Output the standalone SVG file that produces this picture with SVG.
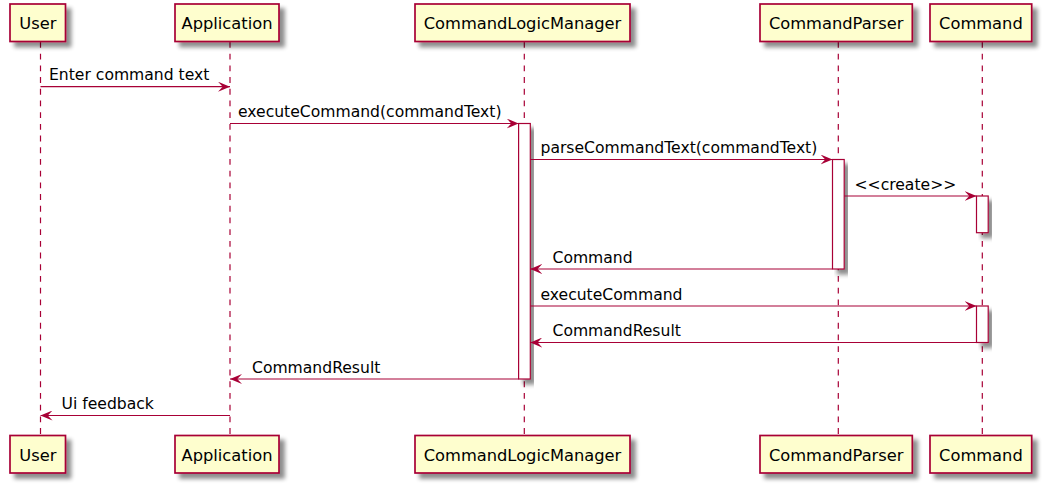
<svg xmlns="http://www.w3.org/2000/svg" width="1043" height="487" viewBox="0 0 1043 487">
<defs>
<filter id="sh" x="-20%" y="-20%" width="150%" height="160%">
<feGaussianBlur in="SourceAlpha" stdDeviation="2.3"/>
<feOffset dx="4.5" dy="4.5" result="b"/>
<feComponentTransfer><feFuncA type="linear" slope="0.45"/></feComponentTransfer>
<feMerge><feMergeNode/><feMergeNode in="SourceGraphic"/></feMerge>
</filter>
<marker id="ah" viewBox="0 0 12 10" refX="12" refY="5" markerWidth="12" markerHeight="10" markerUnits="userSpaceOnUse" orient="auto">
<polygon points="0,0 12,5 0,10 4.7,5" fill="#A80036"/>
</marker>
</defs>
<style>
.box{fill:#FEFECE;stroke:#A80036;stroke-width:1.7}
.life{stroke:#A80036;stroke-width:1.2;stroke-dasharray:5.85,5.85;fill:none}
.act{fill:#FFFFFF;stroke:#A80036;stroke-width:1.2}
.msg{stroke:#A80036;stroke-width:1.2;fill:none;marker-end:url(#ah)}
.name{font-family:"DejaVu Sans",sans-serif;font-size:16.3px;fill:#000;text-anchor:middle}
.lbl{font-family:"DejaVu Sans",sans-serif;font-size:15.6px;fill:#000}
</style>
<rect width="1043" height="487" fill="#FFFFFF"/>
<g id="lifelines">
<line class="life" x1="40.5" y1="42" x2="40.5" y2="435"/>
<line class="life" x1="230" y1="42" x2="230" y2="435"/>
<line class="life" x1="524.3" y1="42" x2="524.3" y2="435"/>
<line class="life" x1="838.3" y1="42" x2="838.3" y2="435"/>
<line class="life" x1="982.3" y1="42" x2="982.3" y2="435"/>
</g>
<g id="user">
<rect class="box" x="10" y="4" width="55.5" height="37.5" filter="url(#sh)"/>
<text class="name" x="37.8" y="28.5">User</text>
<rect class="box" x="10" y="435.5" width="55.5" height="37.5" filter="url(#sh)"/>
<text class="name" x="37.8" y="460.5">User</text>
</g>
<g id="application">
<rect class="box" x="175" y="4" width="104" height="37.5" filter="url(#sh)"/>
<text class="name" x="227" y="28.5">Application</text>
<rect class="box" x="175" y="435.5" width="104" height="37.5" filter="url(#sh)"/>
<text class="name" x="227" y="460.5">Application</text>
</g>
<g id="commandlogicmanager">
<rect class="box" x="415" y="4" width="215" height="37.5" filter="url(#sh)"/>
<text class="name" x="522.5" y="28.5">CommandLogicManager</text>
<rect class="box" x="415" y="435.5" width="215" height="37.5" filter="url(#sh)"/>
<text class="name" x="522.5" y="460.5">CommandLogicManager</text>
<rect class="act" x="518.6" y="123.5" width="11.7" height="255.5" filter="url(#sh)"/>
</g>
<g id="commandparser">
<rect class="box" x="760" y="4" width="152.3" height="37.5" filter="url(#sh)"/>
<text class="name" x="836.2" y="28.5">CommandParser</text>
<rect class="box" x="760" y="435.5" width="152.3" height="37.5" filter="url(#sh)"/>
<text class="name" x="836.2" y="460.5">CommandParser</text>
<rect class="act" x="832.5" y="159.5" width="11.7" height="109.5" filter="url(#sh)"/>
</g>
<g id="command">
<rect class="box" x="930" y="4" width="101.7" height="37.5" filter="url(#sh)"/>
<text class="name" x="980.9" y="28.5">Command</text>
<rect class="box" x="930" y="435.5" width="101.7" height="37.5" filter="url(#sh)"/>
<text class="name" x="980.9" y="460.5">Command</text>
<rect class="act" x="976.5" y="196" width="11.7" height="36.7" filter="url(#sh)"/>
<rect class="act" x="976.5" y="306" width="11.7" height="36.5" filter="url(#sh)"/>
</g>
<g id="connectors">
<line class="msg" x1="40.5" y1="86.7" x2="230" y2="86.7"/>
<text class="lbl" x="49" y="80">Enter command text</text>
<line class="msg" x1="230" y1="123.5" x2="518.6" y2="123.5"/>
<text class="lbl" x="238" y="117">executeCommand(commandText)</text>
<line class="msg" x1="530.3" y1="159.5" x2="832.5" y2="159.5"/>
<text class="lbl" x="540.5" y="153">parseCommandText(commandText)</text>
<line class="msg" x1="844.2" y1="196" x2="976.5" y2="196"/>
<text class="lbl" x="854.5" y="189.5">&lt;&lt;create&gt;&gt;</text>
<line class="msg" x1="832.5" y1="269" x2="530.3" y2="269"/>
<text class="lbl" x="552.5" y="262.5">Command</text>
<line class="msg" x1="530.3" y1="306" x2="976.5" y2="306"/>
<text class="lbl" x="540.5" y="299.5">executeCommand</text>
<line class="msg" x1="976.5" y1="342.5" x2="530.3" y2="342.5"/>
<text class="lbl" x="552.5" y="336">CommandResult</text>
<line class="msg" x1="518.6" y1="379" x2="230" y2="379"/>
<text class="lbl" x="252" y="372.5">CommandResult</text>
<line class="msg" x1="230" y1="415.5" x2="40.5" y2="415.5"/>
<text class="lbl" x="61.5" y="409">Ui feedback</text>
</g>
</svg>
